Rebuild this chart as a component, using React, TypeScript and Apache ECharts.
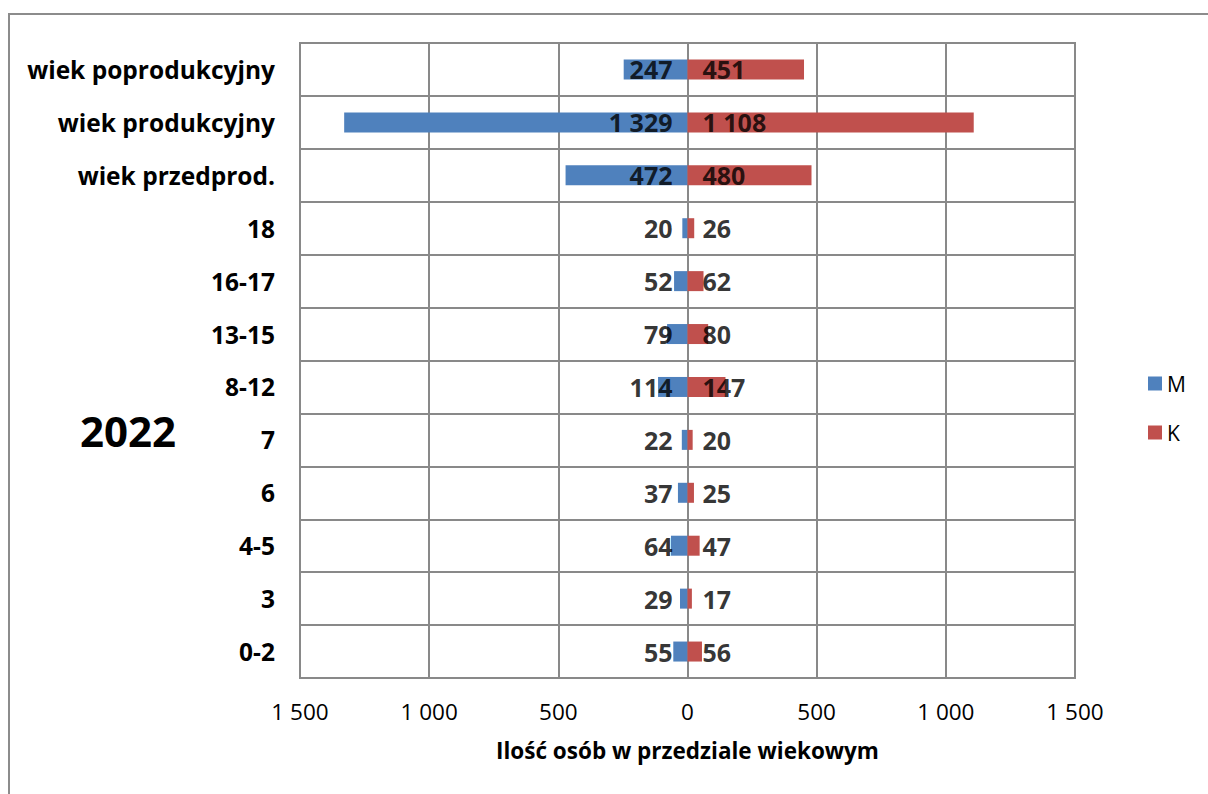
import React, { useEffect, useRef } from "react";
import * as echarts from "echarts";

const categories = [
  "0-2",
  "3",
  "4-5",
  "6",
  "7",
  "8-12",
  "13-15",
  "16-17",
  "18",
  "wiek przedprod.",
  "wiek produkcyjny",
  "wiek poprodukcyjny",
];
const maleValues = [55, 29, 64, 37, 22, 114, 79, 52, 20, 472, 1329, 247];
const femaleValues = [56, 17, 47, 25, 20, 147, 80, 62, 26, 480, 1108, 451];
const yearLabel = "2022";
const axisTitle = "Ilość osób w przedziale wiekowym";
const seriesNames = ["M", "K"];

const fmt = (v: number) =>
  String(Math.abs(v)).replace(/\B(?=(\d{3})+(?!\d))/g, " ");

const FONT = "Open Sans";
const GRID_COLOR = "#898989";
const BLUE = "#4F81BD";
const RED = "#C0504D";

export default function App() {
  const ref = useRef<HTMLDivElement>(null);
  useEffect(() => {
    if (!ref.current) return;
    const chart = echarts.init(ref.current, undefined, { renderer: "svg" });
    chart.setOption({
      animation: false,
      backgroundColor: "#fff",
      textStyle: { fontFamily: FONT },
      grid: {
        left: 300,
        top: 43,
        right: 133,
        bottom: 116,
        show: true,
        borderColor: GRID_COLOR,
        borderWidth: 2,
        containLabel: false,
      },
      legend: {
        orient: "vertical",
        left: 1143,
        top: 368,
        itemWidth: 14,
        itemHeight: 14,
        itemGap: 28,
        icon: "rect",
        textStyle: { fontFamily: FONT, fontSize: 21, color: "#000" },
        data: seriesNames,
      },
      xAxis: {
        type: "value",
        min: -1500,
        max: 1500,
        interval: 500,
        axisLine: { show: false },
        axisTick: { show: false },
        splitLine: { show: true, lineStyle: { color: GRID_COLOR, width: 2 } },
        axisLabel: {
          formatter: (v: number) => fmt(v),
          fontFamily: FONT,
          fontSize: 22.5,
          color: "#000",
          margin: 22,
        },
        name: axisTitle,
        nameLocation: "middle",
        nameGap: 61,
        nameTextStyle: {
          fontFamily: FONT,
          fontSize: 22.5,
          fontWeight: "bold",
          color: "#000",
        },
      },
      yAxis: {
        type: "category",
        data: categories,
        axisLine: { show: false },
        axisTick: { show: false },
        splitLine: { show: true, lineStyle: { color: GRID_COLOR, width: 2 } },
        axisLabel: {
          fontFamily: FONT,
          fontSize: 24.5,
          fontWeight: "bold",
          color: "#000",
          margin: 25,
        },
      },
      graphic: [
        {
          type: "rect",
          shape: { x: 9, y: 14, width: 1300, height: 900 },
          style: { fill: "none", stroke: "#8c8c8c", lineWidth: 2 },
          silent: true,
        },
        {
          type: "text",
          x: 128,
          y: 430,
          style: {
            text: yearLabel,
            font: `bold 42px ${FONT}`,
            fill: "#000",
            align: "center",
            verticalAlign: "middle",
          },
        },
      ],
      series: [
        {
          name: seriesNames[0],
          type: "bar",
          stack: "total",
          barWidth: 20,
          itemStyle: { color: BLUE },
          data: maleValues.map((v) => -v),
        },
        {
          name: seriesNames[1],
          type: "bar",
          stack: "total",
          barWidth: 20,
          itemStyle: { color: RED },
          data: femaleValues,
        },
        {
          type: "scatter",
          symbolSize: 0,
          z: 5,
          silent: true,
          data: maleValues.map((v, i) => [0, categories[i], v]),
          label: {
            show: true,
            position: "left",
            distance: 15,
            formatter: (p: any) => fmt(p.value[2]),
            fontFamily: FONT,
            fontSize: 25,
            fontWeight: "bold",
            color: "#000",
          },
        },
        {
          type: "scatter",
          symbolSize: 0,
          z: 5,
          silent: true,
          data: femaleValues.map((v, i) => [0, categories[i], v]),
          label: {
            show: true,
            position: "right",
            distance: 15,
            formatter: (p: any) => fmt(p.value[2]),
            fontFamily: FONT,
            fontSize: 25,
            fontWeight: "bold",
            color: "#000",
          },
        },
      ],
    });
    return () => chart.dispose();
  }, []);
  return (
    <div
      ref={ref}
      style={{ position: "fixed", left: 0, top: 0, width: 1208, height: 794 }}
    />
  );
}
